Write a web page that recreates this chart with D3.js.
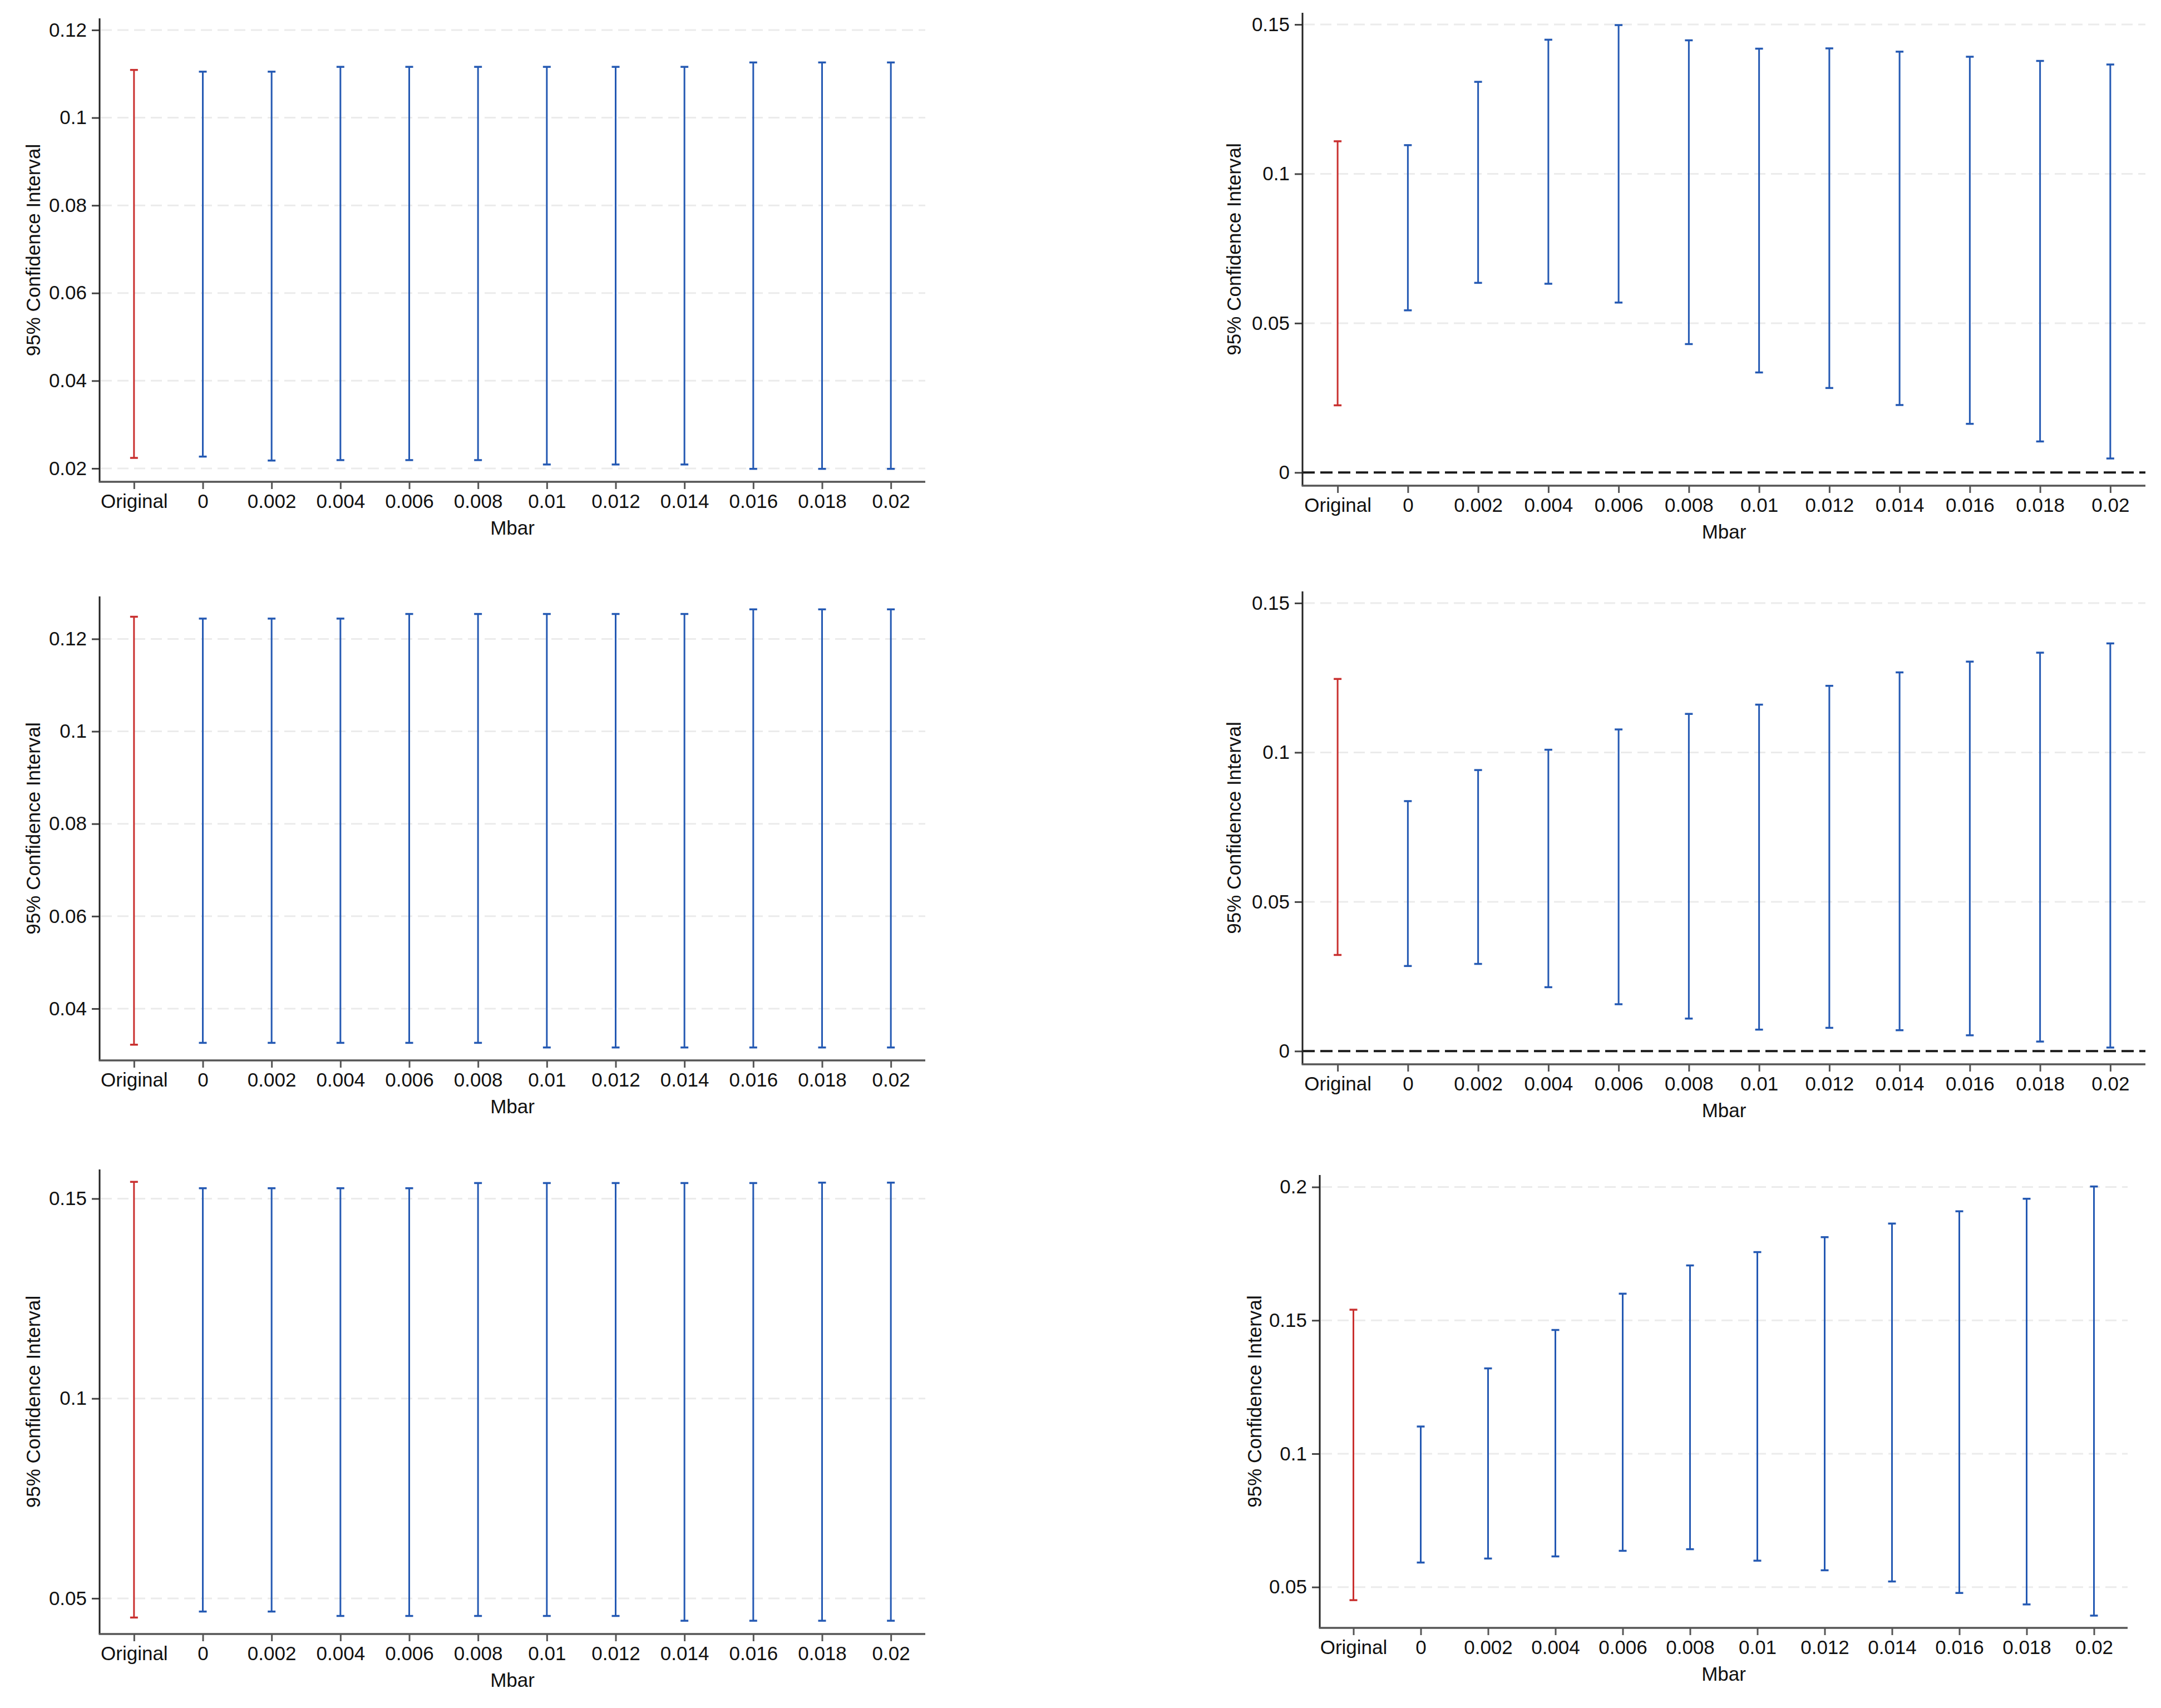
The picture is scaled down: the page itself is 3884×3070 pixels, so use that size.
<!DOCTYPE html>
<html>
<head>
<meta charset="utf-8">
<script src="https://cdn.jsdelivr.net/npm/d3@7/dist/d3.min.js"></script>
<style>
  html, body { margin: 0; padding: 0; background: #ffffff; }
  svg { display: block; }
  text { font-family: "Liberation Sans", Arial, Helvetica, sans-serif; fill: #111; }
</style>
</head>
<body>
<svg id="chart" width="3884" height="3070"></svg>
<script>
// ---------------- DATA ----------------
const categories = ["Original", "0", "0.002", "0.004", "0.006", "0.008", "0.01", "0.012", "0.014", "0.016", "0.018", "0.02"];
const xTitle = "Mbar";
const yTitle = "95% Confidence Interval";

// Panel 1 (top-left)
const p1Lo = [0.0224, 0.0227, 0.0218, 0.0219, 0.0219, 0.0219, 0.0209, 0.0209, 0.0209, 0.0199, 0.0199, 0.0199];
const p1Hi = [0.1109, 0.1105, 0.1105, 0.1116, 0.1116, 0.1116, 0.1116, 0.1116, 0.1116, 0.1126, 0.1126, 0.1126];
const p1Ticks = [0.02, 0.04, 0.06, 0.08, 0.1, 0.12];

// Panel 2 (top-right)
const p2Lo = [0.0225, 0.0543, 0.0635, 0.0632, 0.0569, 0.0430, 0.0335, 0.0283, 0.0226, 0.0163, 0.0104, 0.0047];
const p2Hi = [0.1109, 0.1096, 0.1308, 0.1449, 0.1498, 0.1447, 0.1419, 0.1420, 0.1409, 0.1392, 0.1378, 0.1366];
const p2Ticks = [0, 0.05, 0.1, 0.15];

// Panel 3 (middle-left)
const p3Lo = [0.0322, 0.0326, 0.0326, 0.0326, 0.0326, 0.0326, 0.0316, 0.0316, 0.0316, 0.0316, 0.0316, 0.0316];
const p3Hi = [0.1248, 0.1244, 0.1244, 0.1244, 0.1254, 0.1254, 0.1254, 0.1254, 0.1254, 0.1264, 0.1264, 0.1264];
const p3Ticks = [0.04, 0.06, 0.08, 0.1, 0.12];

// Panel 4 (middle-right)
const p4Lo = [0.0322, 0.0285, 0.0292, 0.0214, 0.0157, 0.0109, 0.0072, 0.0078, 0.0070, 0.0053, 0.0032, 0.0012];
const p4Hi = [0.1246, 0.0837, 0.0941, 0.1009, 0.1077, 0.1129, 0.1160, 0.1223, 0.1268, 0.1304, 0.1334, 0.1365];
const p4Ticks = [0, 0.05, 0.1, 0.15];

// Panel 5 (bottom-left)
const p5Lo = [0.0452, 0.0467, 0.0467, 0.0456, 0.0456, 0.0456, 0.0456, 0.0456, 0.0444, 0.0444, 0.0444, 0.0444];
const p5Hi = [0.1542, 0.1526, 0.1526, 0.1526, 0.1526, 0.1539, 0.1539, 0.1539, 0.1539, 0.1539, 0.1540, 0.1540];
const p5Ticks = [0.05, 0.1, 0.15];

// Panel 6 (bottom-right)
const p6Lo = [0.0451, 0.0592, 0.0607, 0.0615, 0.0636, 0.0642, 0.0599, 0.0563, 0.0521, 0.0478, 0.0435, 0.0393];
const p6Hi = [0.1540, 0.1102, 0.1320, 0.1464, 0.1600, 0.1706, 0.1756, 0.1812, 0.1863, 0.1909, 0.1956, 0.2002];
const p6Ticks = [0.05, 0.1, 0.15, 0.2];

// ---------------- LAYOUT ----------------
const panels = [
  { lo: p1Lo, hi: p1Hi, ticks: p1Ticks, x0: 179,  x1: 1663, y0: 33,   y1: 866,  dom: [0.01695, 0.12266], zero: false, titleX: 72 },
  { lo: p2Lo, hi: p2Hi, ticks: p2Ticks, x0: 2341, x1: 3856, y0: 23,   y1: 873,  dom: [-0.00441, 0.15391], zero: true, titleX: 2230 },
  { lo: p3Lo, hi: p3Hi, ticks: p3Ticks, x0: 179,  x1: 1663, y0: 1072, y1: 1906, dom: [0.0288, 0.1292], zero: false, titleX: 72 },
  { lo: p4Lo, hi: p4Hi, ticks: p4Ticks, x0: 2341, x1: 3856, y0: 1063, y1: 1913, dom: [-0.00441, 0.15391], zero: true, titleX: 2230 },
  { lo: p5Lo, hi: p5Hi, ticks: p5Ticks, x0: 179,  x1: 1663, y0: 2102, y1: 2937, dom: [0.04108, 0.1573], zero: false, titleX: 72 },
  { lo: p6Lo, hi: p6Hi, ticks: p6Ticks, x0: 2372, x1: 3824, y0: 2112, y1: 2926, dom: [0.0347, 0.2045], zero: false, titleX: 2267 }
];

const RED = "#c9302f";
const BLUE = "#2459b3";
const FONT = 35;
const fmt = d3.format("~g");

const svg = d3.select("#chart");
svg.append("rect").attr("width", 3884).attr("height", 3070).attr("fill", "#ffffff");

panels.forEach(p => {
  const g = svg.append("g");
  const x = d3.scalePoint().domain(categories).range([p.x0, p.x1]).padding(0.5);
  const y = d3.scaleLinear().domain(p.dom).range([p.y1, p.y0]);

  // gridlines
  g.append("g").selectAll("line").data(p.ticks.filter(t => !(p.zero && t === 0))).join("line")
    .attr("x1", p.x0 + 2).attr("x2", p.x1)
    .attr("y1", d => y(d)).attr("y2", d => y(d))
    .attr("stroke", "#ebebeb").attr("stroke-width", 3).attr("stroke-dasharray", "20,10");

  // zero reference line
  if (p.zero) {
    g.append("line")
      .attr("x1", p.x0).attr("x2", p.x1).attr("y1", y(0)).attr("y2", y(0))
      .attr("stroke", "#1a1a1a").attr("stroke-width", 4).attr("stroke-dasharray", "22,10");
  }

  // y axis
  const yAxis = d3.axisLeft(y).tickValues(p.ticks).tickFormat(fmt).tickSize(14).tickPadding(9);
  const ya = g.append("g").attr("transform", `translate(${p.x0},0)`).call(yAxis);
  ya.select(".domain").remove();
  ya.selectAll(".tick line").attr("stroke", "#444").attr("stroke-width", 3);
  ya.selectAll(".tick text").attr("font-size", FONT).attr("fill", "#111")
    .style("font-family", "'Liberation Sans', Arial, sans-serif");
  g.append("line").attr("x1", p.x0).attr("x2", p.x0).attr("y1", p.y0).attr("y2", p.y1)
    .attr("stroke", "#222").attr("stroke-width", 3);

  // x axis
  const xAxis = d3.axisBottom(x).tickSize(13).tickPadding(9);
  const xa = g.append("g").attr("transform", `translate(0,${p.y1})`).call(xAxis);
  xa.select(".domain").remove();
  xa.selectAll(".tick line").attr("stroke", "#555").attr("stroke-width", 3);
  xa.selectAll(".tick text").attr("font-size", FONT).attr("fill", "#111")
    .style("font-family", "'Liberation Sans', Arial, sans-serif");
  g.append("line").attr("x1", p.x0 - 1.5).attr("x2", p.x1).attr("y1", p.y1).attr("y2", p.y1)
    .attr("stroke", "#555").attr("stroke-width", 3.5);

  // titles
  g.append("text")
    .attr("x", (p.x0 + p.x1) / 2).attr("y", p.y1 + 95)
    .attr("text-anchor", "middle").attr("font-size", FONT).text(xTitle);
  g.append("text")
    .attr("transform", `translate(${p.titleX},${(p.y0 + p.y1) / 2}) rotate(-90)`)
    .attr("text-anchor", "middle").attr("font-size", FONT).text(yTitle);

  // error bars
  const rows = categories.map((c, i) => ({ c, lo: p.lo[i], hi: p.hi[i], color: i === 0 ? RED : BLUE }));
  const bars = g.append("g").selectAll("g").data(rows).join("g");
  bars.append("line")
    .attr("x1", d => x(d.c)).attr("x2", d => x(d.c))
    .attr("y1", d => y(d.lo)).attr("y2", d => y(d.hi))
    .attr("stroke", d => d.color).attr("stroke-width", 3);
  ["lo", "hi"].forEach(k => {
    bars.append("line")
      .attr("x1", d => x(d.c) - 7).attr("x2", d => x(d.c) + 7)
      .attr("y1", d => y(d[k])).attr("y2", d => y(d[k]))
      .attr("stroke", d => d.color).attr("stroke-width", 3.5);
  });
});
</script>
</body>
</html>
